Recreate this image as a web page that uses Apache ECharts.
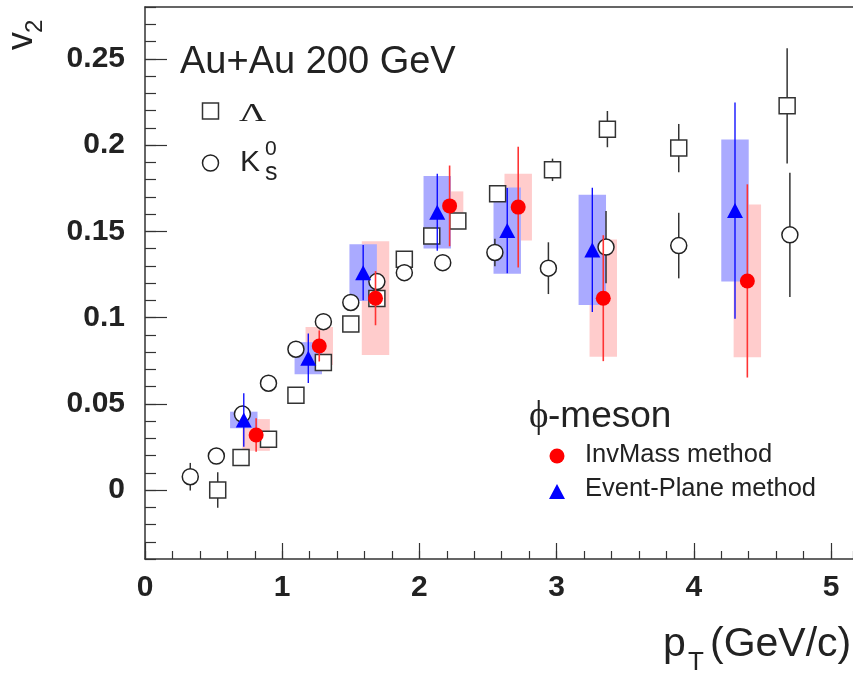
<!DOCTYPE html>
<html>
<head>
    <meta charset="utf-8">
    <title>v2 vs pT</title>
    <script src="https://cdn.jsdelivr.net/npm/echarts@6/dist/echarts.min.js"></script>
    <style>
        html, body { margin: 0; padding: 0; background: #fff; }
        #chart1 { width: 853px; height: 675px; }
    </style>
</head>
<body>
<div id="chart1"></div>
<script type="text/javascript">
    // K0s (open circles)
    var k0Pt  = [0.33, 0.52, 0.71, 0.90, 1.10, 1.30, 1.50, 1.69, 1.89, 2.17, 2.55, 2.94, 3.36, 3.89, 4.70];
    var k0V2  = [0.0077, 0.0197, 0.0440, 0.0619, 0.0816, 0.0976, 0.1087, 0.1208, 0.1260, 0.1318, 0.1377, 0.1286, 0.1408, 0.1417, 0.1479];
    var k0Err = [0.008, 0.004, 0.004, 0.004, 0.004, 0.004, 0.004, 0.004, 0.004, 0.004, 0.008, 0.015, 0.021, 0.019, 0.036];

    // Lambda (open squares)
    var lamPt  = [0.53, 0.70, 0.90, 1.10, 1.30, 1.50, 1.69, 1.89, 2.09, 2.28, 2.57, 2.97, 3.37, 3.89, 4.68];
    var lamV2  = [0.0, 0.0188, 0.0294, 0.0549, 0.0739, 0.0963, 0.1110, 0.1338, 0.1473, 0.1560, 0.1717, 0.1856, 0.2092, 0.1982, 0.2227];
    var lamErr = [0.0103, 0.004, 0.004, 0.004, 0.004, 0.004, 0.004, 0.004, 0.004, 0.004, 0.004, 0.0065, 0.0105, 0.014, 0.0334];

    // phi, invariant mass method
    var invPt   = [0.81, 1.27, 1.68, 2.22, 2.72, 3.34, 4.39];
    var invV2   = [0.0319, 0.0835, 0.1112, 0.1647, 0.1640, 0.1112, 0.1212];
    var invStat = [0.0097, 0.0090, 0.0157, 0.0234, 0.0350, 0.0365, 0.0560];
    var invSys  = [0.0092, 0.0110, 0.0330, 0.0084, 0.0194, 0.0340, 0.0443];

    // phi, event plane method
    var epPt   = [0.72, 1.19, 1.59, 2.13, 2.64, 3.26, 4.30];
    var epV2   = [0.0406, 0.0764, 0.1260, 0.1610, 0.1504, 0.1392, 0.1620];
    var epStat = [0.0155, 0.0143, 0.0160, 0.0223, 0.0247, 0.0360, 0.0627];
    var epSys  = [0.0048, 0.0093, 0.0164, 0.0210, 0.0250, 0.0320, 0.0412];

    var xTicks = [0, 1, 2, 3, 4, 5];
    var yTicks = [0, 0.05, 0.1, 0.15, 0.2, 0.25];

    var FONT = '"Liberation Sans", Arial, Helvetica, sans-serif';
    var SERIF = '"Liberation Serif", "DejaVu Serif", serif';
    var INK = '#222';

    function zip3(a, b, c) {
        return a.map(function (v, i) { return [v, b[i], c[i]]; });
    }

    // systematic box, +-0.1 in pT
    function boxRender(color) {
        return function (params, api) {
            var x = api.value(0), y = api.value(1), s = api.value(2);
            var p1 = api.coord([x - 0.1, y + s]);
            var p2 = api.coord([x + 0.1, y - s]);
            return {
                type: 'rect',
                shape: { x: p1[0], y: p1[1], width: p2[0] - p1[0], height: p2[1] - p1[1] },
                style: { fill: color }
            };
        };
    }

    function barRender(color, w) {
        return function (params, api) {
            var x = api.value(0), y = api.value(1), e = api.value(2);
            var p1 = api.coord([x, y + e]);
            var p2 = api.coord([x, y - e]);
            return {
                type: 'line',
                shape: { x1: p1[0], y1: p1[1], x2: p2[0], y2: p2[1] },
                style: { stroke: color, lineWidth: w }
            };
        };
    }

    function txt(x, y, text, font, extra, vAlign) {
        var el = {
            type: 'text', x: x, y: y, z: 100,
            style: {
                text: text, font: font, fill: INK,
                align: 'left', textAlign: 'left',
                verticalAlign: vAlign || 'middle', textVerticalAlign: vAlign || 'middle'
            }
        };
        if (extra) { for (var k in extra) el[k] = extra[k]; }
        return el;
    }

    var myChart1 = echarts.init(document.getElementById('chart1'));
    var option = {
        animation: false,
        backgroundColor: '#fff',
        grid: { left: 145, top: 7, right: 0, bottom: 116, containLabel: false },
        xAxis: [
            {
                type: 'value', position: 'bottom', min: 0, max: 5.16,
                axisLine: { onZero: false, lineStyle: { color: '#333', width: 1.5 } },
                axisTick: { inside: true, length: 16, customValues: xTicks, lineStyle: { color: '#333', width: 1.2 } },
                axisLabel: {
                    customValues: xTicks, margin: 14, color: INK,
                    fontFamily: FONT, fontWeight: 'bold', fontSize: 30
                },
                splitLine: { show: false }
            },
            {
                type: 'value', position: 'bottom', min: 0, max: 5.16, interval: 0.2,
                axisLine: { show: false, onZero: false },
                axisTick: { inside: true, length: 8, lineStyle: { color: '#333', width: 1.2 } },
                axisLabel: { show: false },
                splitLine: { show: false }
            },
            {
                type: 'value', position: 'top', min: 0, max: 5.16,
                axisLine: { onZero: false, lineStyle: { color: '#333', width: 1.5 } },
                axisTick: { show: false },
                axisLabel: { show: false },
                splitLine: { show: false }
            }
        ],
        yAxis: [
            {
                type: 'value', position: 'left', min: -0.04, max: 0.28,
                axisLine: { onZero: false, lineStyle: { color: '#333', width: 1.5 } },
                axisTick: { inside: true, length: 22, customValues: yTicks, lineStyle: { color: '#333', width: 1.2 } },
                axisLabel: {
                    customValues: yTicks, margin: 20, color: INK,
                    fontFamily: FONT, fontWeight: 'bold', fontSize: 30,
                    formatter: function (v) { return String(v); }
                },
                splitLine: { show: false }
            },
            {
                type: 'value', position: 'left', min: -0.04, max: 0.28, interval: 0.01,
                axisLine: { show: false, onZero: false },
                axisTick: { inside: true, length: 11, lineStyle: { color: '#333', width: 1.2 } },
                axisLabel: { show: false },
                splitLine: { show: false }
            }
        ],
        series: [
            { type: 'custom', name: 'invSys', z: 1, renderItem: boxRender('#ffcccc'), data: zip3(invPt, invV2, invSys) },
            { type: 'custom', name: 'epSys', z: 2, renderItem: boxRender('#aaaaff'), data: zip3(epPt, epV2, epSys) },
            { type: 'custom', name: 'k0Err', z: 3, renderItem: barRender('#333', 1.5), data: zip3(k0Pt, k0V2, k0Err) },
            { type: 'custom', name: 'lamErr', z: 3, renderItem: barRender('#333', 1.5), data: zip3(lamPt, lamV2, lamErr) },
            {
                type: 'scatter', name: 'Lambda', z: 4, symbol: 'rect', symbolSize: 16,
                itemStyle: { color: '#fff', borderColor: '#333', borderWidth: 1.5, opacity: 1 },
                data: lamPt.map(function (x, i) { return [x, lamV2[i]]; })
            },
            {
                type: 'scatter', name: 'K0s', z: 4, symbol: 'circle', symbolSize: 16,
                itemStyle: { color: '#fff', borderColor: '#222', borderWidth: 1.5, opacity: 1 },
                data: k0Pt.map(function (x, i) { return [x, k0V2[i]]; })
            },
            { type: 'custom', name: 'epStat', z: 5, renderItem: barRender('#0000ff', 1.3), data: zip3(epPt, epV2, epStat) },
            {
                type: 'scatter', name: 'EP', z: 6, symbol: 'triangle', symbolSize: [16, 15],
                itemStyle: { color: '#0000ff', opacity: 1 },
                data: epPt.map(function (x, i) { return [x, epV2[i]]; })
            },
            { type: 'custom', name: 'invStat', z: 7, renderItem: barRender('#ff3333', 1.6), data: zip3(invPt, invV2, invStat) },
            {
                type: 'scatter', name: 'InvMass', z: 8, symbol: 'circle', symbolSize: 15,
                itemStyle: { color: '#ff0000', opacity: 1 },
                data: invPt.map(function (x, i) { return [x, invV2[i]]; })
            }
        ],
        graphic: [
            // y title, rotated
            txt(40, 50, 'v', '36px ' + FONT, { rotation: Math.PI / 2 }, 'bottom'),
            txt(47, 33, '2', '24px ' + FONT, { rotation: Math.PI / 2 }, 'bottom'),

            txt(180, 63, 'Au+Au 200 GeV', '38px ' + FONT),

            { type: 'rect', z: 100, shape: { x: 202.5, y: 103, width: 16, height: 16 }, style: { fill: '#fff', stroke: '#333', lineWidth: 1.5 } },
            txt(239, 114, 'Λ', '25px ' + SERIF, { scaleX: 1.5 }),
            { type: 'circle', z: 100, shape: { cx: 210.5, cy: 163, r: 8 }, style: { fill: '#fff', stroke: '#222', lineWidth: 1.5 } },
            txt(240, 162.5, 'K', '30px ' + FONT),
            txt(265, 173, 's', '25px ' + FONT),
            txt(265, 149, '0', '21px ' + FONT),

            txt(529, 417, 'ϕ', '37px ' + SERIF),
            txt(548, 417, '-meson', '37px ' + FONT),
            { type: 'circle', z: 100, shape: { cx: 557, cy: 456, r: 7.5 }, style: { fill: '#ff0000' } },
            txt(585, 455, 'InvMass method', '25.5px ' + FONT),
            { type: 'polygon', z: 100, shape: { points: [[557, 484], [565, 499], [549, 499]] }, style: { fill: '#0000ff' } },
            txt(585, 489, 'Event-Plane method', '25.5px ' + FONT),

            // x title
            txt(663, 645, 'p', '41px ' + FONT),
            txt(688, 663, 'T', '26px ' + FONT),
            txt(710, 645, '(GeV/c)', '41px ' + FONT)
        ]
    };
    myChart1.setOption(option);
</script>
</body>
</html>
